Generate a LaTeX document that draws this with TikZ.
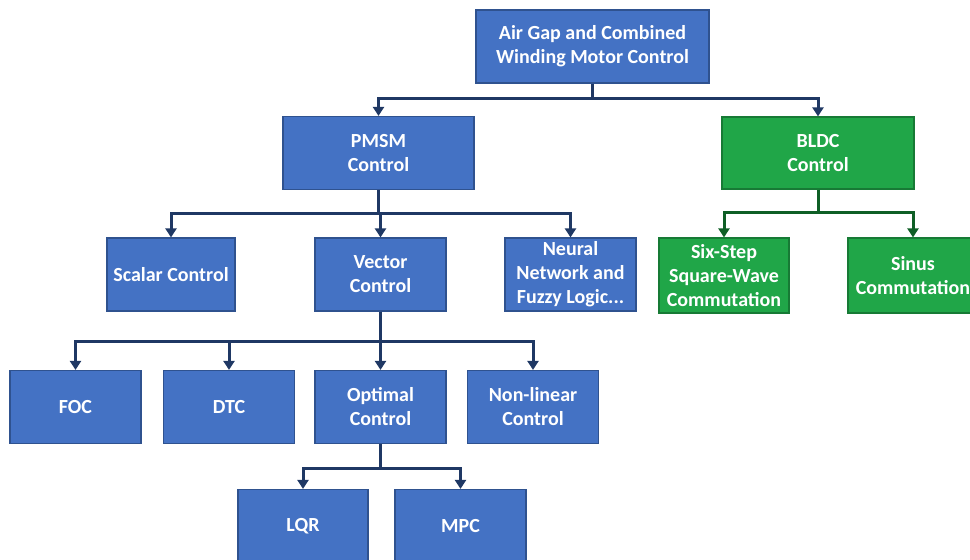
\documentclass[tikz,border=0pt]{standalone}
\usepackage{fontspec}
\setmainfont{Carlito}
\usepackage{xcolor}
\usepackage{tikz}
\usetikzlibrary{arrows.meta}
\definecolor{boxblue}{HTML}{4472C4}
\definecolor{edgeblue}{HTML}{2F528F}
\definecolor{navy}{HTML}{1F3864}
\definecolor{boxgreen}{HTML}{20A648}
\definecolor{edgegreen}{HTML}{177A35}
\definecolor{darkgreen}{HTML}{0F5F26}
\tikzset{
  ctrl/.style={
    draw=edgeblue, line width=1.2pt, fill=boxblue,
    text=white, font=\fontsize{20}{24}\selectfont\bfseries,
    align=center, inner sep=0pt,
    minimum width=131pt, minimum height=73pt
  },
  gctrl/.style={ctrl, draw=edgegreen, fill=boxgreen, minimum height=75pt},
  link/.style={draw=navy, line width=3pt,
    -{Triangle[length=9pt,width=11pt]}},
  glink/.style={link, draw=darkgreen}
}

\begin{document}
\begin{tikzpicture}[x=1pt, y=-1pt]
  \useasboundingbox (0,0) rectangle (970,560);
  \clip (0,0) rectangle (970,560);

  % top level
  \node[ctrl, minimum width=233pt] (root) at (592.5,46.5)
    {Air Gap and Combined\\Winding Motor Control};
  \node[ctrl, minimum width=191pt] (pmsm) at (378.5,153) {PMSM\\Control};
  \node[gctrl, minimum width=192pt, minimum height=72pt] (bldc) at (818,153) {BLDC\\Control};

  % second level
  \node[ctrl, minimum width=128pt] (scalar) at (171,274.5) {Scalar Control};
  \node[ctrl] (vector) at (380.5,274.5) {Vector\\Control};
  \node[ctrl] (neural) at (570.5,274.5) {Neural\\Network and\\Fuzzy Logic...};
  \node[gctrl, minimum width=130pt] (sixstep) at (724,275.5)
    {Six-Step\\Square-Wave\\Commutation};
  \node[gctrl, minimum width=130pt] (sinus) at (913,275.5) {Sinus\\Commutation};

  % vector control methods
  \node[ctrl] (foc) at (75.5,407) {FOC};
  \node[ctrl] (dtc) at (229,407) {DTC};
  \node[ctrl] (optimal) at (380.5,407) {Optimal\\Control};
  \node[ctrl] (nonlin) at (533,407) {Non-linear\\Control};

  % optimal control methods
  \node[ctrl, minimum width=130pt] (lqr) at (303,526) {LQR};
  \node[ctrl] (mpc) at (460.5,526) {MPC};

  % connectors
  \draw[link] (root.south) -- ++(0,15) -| (pmsm.north);
  \draw[link] (root.south) -- ++(0,15) -| (bldc.north);

  \draw[link] (pmsm.south) -- ++(0,23) -| (scalar.north);
  \draw[link] (pmsm.south) -- ++(0,23) -| (vector.north);
  \draw[link] (pmsm.south) -- ++(0,23) -| (neural.north);

  \draw[glink] (bldc.south) -- ++(0,23) -| (sixstep.north);
  \draw[glink] (bldc.south) -- ++(0,23) -| (sinus.north);

  \draw[link] (vector.south) -- ++(0,30) -| (foc.north);
  \draw[link] (vector.south) -- ++(0,30) -| (dtc.north);
  \draw[link] (vector.south) -- ++(0,30) -| (optimal.north);
  \draw[link] (vector.south) -- ++(0,30) -| (nonlin.north);

  \draw[link] (optimal.south) -- ++(0,24) -| (lqr.north);
  \draw[link] (optimal.south) -- ++(0,24) -| (mpc.north);
\end{tikzpicture}
\end{document}
